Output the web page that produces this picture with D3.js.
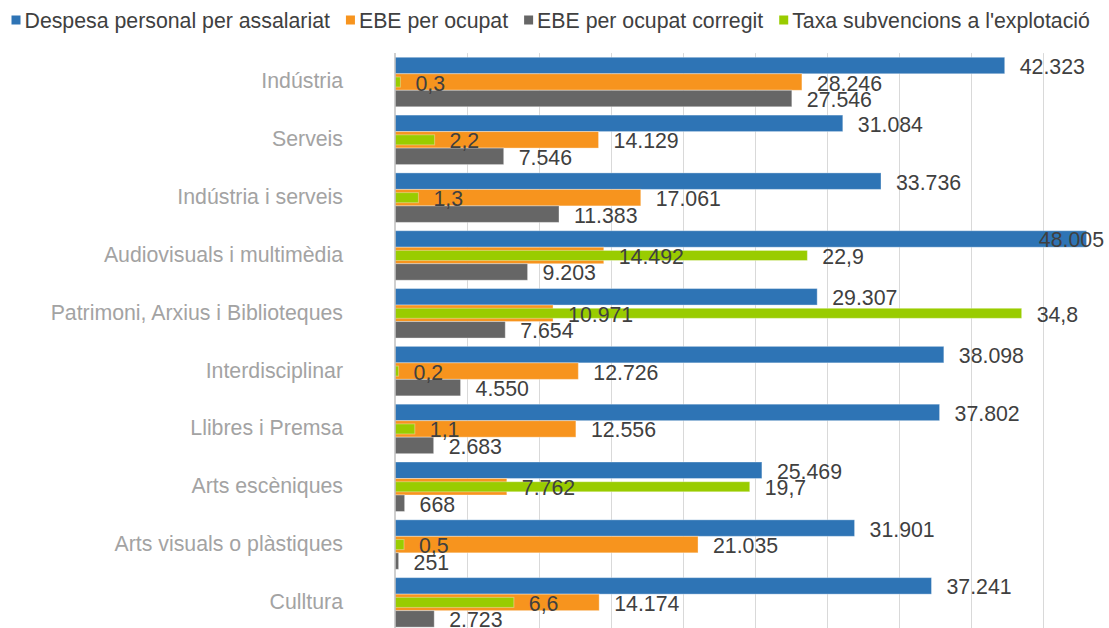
<!DOCTYPE html>
<head>
    <meta charset="utf-8">
    <script src="https://d3js.org/d3.v7.min.js"></script>
    <style>
        body {
            margin: 0;
            background: white;
            font-family: "Liberation Sans", Arial, sans-serif;
        }

        text {
            font-size: 21.3px;
        }

        .legend-label {
            fill: #404040;
        }

        .cat-label {
            fill: #a3a3a3;
        }

        .value-label {
            fill: #404040;
        }

        .grid-line {
            stroke: #d9d9d9;
            stroke-width: 1px;
        }

        .axis-line {
            stroke: #bfbfbf;
            stroke-width: 1.5px;
        }

        .bar {
            stroke: white;
            stroke-opacity: 0.35;
            stroke-width: 1px;
        }
    </style>
</head>

<body>
<script>
    // data
    var categories = ["Indústria", "Serveis", "Indústria i serveis", "Audiovisuals i multimèdia",
        "Patrimoni, Arxius i Biblioteques", "Interdisciplinar", "Llibres i Premsa",
        "Arts escèniques", "Arts visuals o plàstiques", "Culltura"];

    var despesaPersonal = [42323, 31084, 33736, 48005, 29307, 38098, 37802, 25469, 31901, 37241];
    var ebeOcupat = [28246, 14129, 17061, 14492, 10971, 12726, 12556, 7762, 21035, 14174];
    var ebeCorregit = [27546, 7546, 11383, 9203, 7654, 4550, 2683, 668, 251, 2723];
    var taxaSubvencions = [0.3, 2.2, 1.3, 22.9, 34.8, 0.2, 1.1, 19.7, 0.5, 6.6];

    var seriesNames = ["Despesa personal per assalariat", "EBE per ocupat", "EBE per ocupat corregit", "Taxa subvencions a l'explotació"];
    var seriesColors = ["#2e74b5", "#f7941e", "#666666", "#99cc00"];

    var primaryMax = 50000,
        secondaryMax = 40;

    var width = 1109,
        height = 628;

    var plot = {left: 395, right: 1115.3, top: 53.1, bottom: 631.3};

    var svg = d3.select("body").append("svg")
        .attr("width", width)
        .attr("height", height);

    var ca = d3.formatLocale({decimal: ",", thousands: ".", grouping: [3], currency: ["", " €"]});
    var fmtInt = ca.format(",d"),
        fmtPct = ca.format(",.1f");

    var x = d3.scaleLinear()
        .domain([0, primaryMax])
        .range([plot.left, plot.right]);

    var x2 = d3.scaleLinear()
        .domain([0, secondaryMax])
        .range([plot.left, plot.right]);

    var y = d3.scaleBand()
        .domain(categories)
        .range([plot.top, plot.bottom])
        .paddingInner(0.144)
        .paddingOuter(0.072);

    var ySub = d3.scaleBand()
        .domain([0, 1, 2])
        .range([0, y.bandwidth()]);

    var yGreen = d3.scaleBand()
        .domain(categories)
        .range([plot.top, plot.bottom])
        .paddingInner(0.826)
        .paddingOuter(0.413);

    // grid
    svg.append("g")
        .selectAll("line")
        .data(x.ticks(10).slice(1))
        .enter().append("line")
        .attr("class", "grid-line")
        .attr("x1", function(d) { return Math.round(x(d)) + 0.5; })
        .attr("x2", function(d) { return Math.round(x(d)) + 0.5; })
        .attr("y1", plot.top)
        .attr("y2", plot.bottom);

    var primary = [despesaPersonal, ebeOcupat, ebeCorregit];

    var rows = [];
    primary.forEach(function(values, s) {
        values.forEach(function(v, i) {
            rows.push({cat: categories[i], s: s, value: v});
        });
    });

    var greenRows = taxaSubvencions.map(function(v, i) {
        return {cat: categories[i], s: 3, value: v};
    });

    svg.append("g")
        .selectAll("rect")
        .data(rows)
        .enter().append("rect")
        .attr("class", "bar")
        .attr("x", x(0))
        .attr("y", function(d) { return y(d.cat) + ySub(d.s); })
        .attr("width", function(d) { return x(d.value) - x(0); })
        .attr("height", ySub.bandwidth())
        .attr("fill", function(d) { return seriesColors[d.s]; });

    svg.append("g")
        .selectAll("rect")
        .data(greenRows)
        .enter().append("rect")
        .attr("class", "bar")
        .attr("x", x2(0))
        .attr("y", function(d) { return yGreen(d.cat); })
        .attr("width", function(d) { return x2(d.value) - x2(0); })
        .attr("height", yGreen.bandwidth())
        .attr("fill", seriesColors[3]);

    svg.append("line")
        .attr("class", "axis-line")
        .attr("x1", plot.left)
        .attr("x2", plot.left)
        .attr("y1", plot.top)
        .attr("y2", plot.bottom);

    // category labels
    svg.append("g")
        .selectAll("text")
        .data(categories)
        .enter().append("text")
        .attr("class", "cat-label")
        .attr("x", plot.left - 52)
        .attr("y", function(d) { return y(d) + y.bandwidth() / 2; })
        .attr("dy", "0.3em")
        .attr("text-anchor", "end")
        .text(function(d) { return d; });

    // value labels, pushed back inside the chart when they would run off the edge
    var labelRight = 1104;

    function placeLabels(sel) {
        sel.each(function() {
            var t = d3.select(this);
            var w = this.getComputedTextLength();
            var lx = +t.attr("x");
            if (lx + w > labelRight) t.attr("x", labelRight - w);
        });
    }

    svg.append("g")
        .selectAll("text")
        .data(rows)
        .enter().append("text")
        .attr("class", "value-label")
        .attr("x", function(d) { return x(d.value) + 15; })
        .attr("y", function(d) { return y(d.cat) + ySub(d.s) + ySub.bandwidth() / 2 + 8.5; })
        .text(function(d) { return fmtInt(d.value); })
        .call(placeLabels);

    svg.append("g")
        .selectAll("text")
        .data(greenRows)
        .enter().append("text")
        .attr("class", "value-label")
        .attr("x", function(d) { return x2(d.value) + 15; })
        .attr("y", function(d) { return yGreen(d.cat) + yGreen.bandwidth() / 2 + 8.5; })
        .text(function(d) { return fmtPct(d.value); })
        .call(placeLabels);

    // legend
    var legend = svg.append("g")
        .attr("transform", "translate(11.5,0)");

    var lx = 0;
    seriesNames.forEach(function(name, i) {
        var item = legend.append("g")
            .attr("transform", "translate(" + lx + ",0)");
        item.append("rect")
            .attr("x", 0)
            .attr("y", 15.5)
            .attr("width", 9)
            .attr("height", 9)
            .attr("fill", seriesColors[i]);
        var t = item.append("text")
            .attr("class", "legend-label")
            .attr("x", 13)
            .attr("y", 27.5)
            .text(name);
        lx += 13 + t.node().getComputedTextLength() + 16;
    });
</script>
</body>
</html>
